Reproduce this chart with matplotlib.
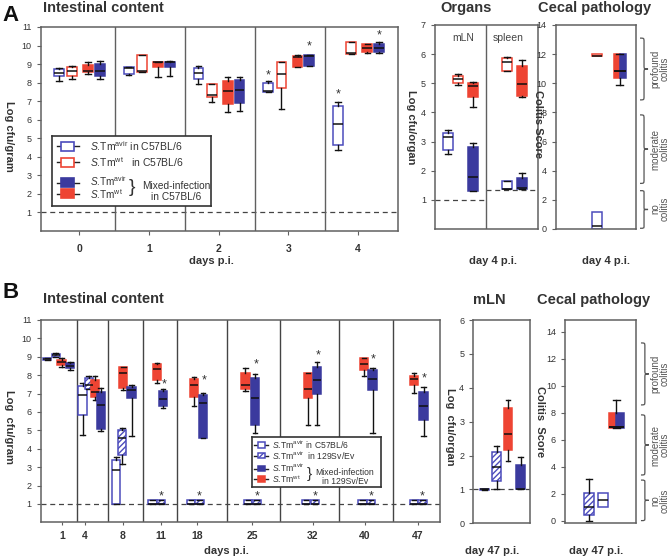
import matplotlib
matplotlib.use("Agg")
import matplotlib.pyplot as plt
from matplotlib.patches import Rectangle, PathPatch
from matplotlib.path import Path
import matplotlib.transforms as mtransforms

plt.rcParams['font.family'] = ['Liberation Sans', 'DejaVu Sans']
plt.rcParams['mathtext.fontset'] = 'custom'
plt.rcParams['mathtext.rm'] = 'Liberation Sans'
plt.rcParams['mathtext.it'] = 'Liberation Sans:italic'
plt.rcParams['hatch.linewidth'] = 1.0

# ---------------- data (lo, q1, median, q3, hi) ----------------
# A: intestinal content, days 0-4, C57BL/6
days_a = [0, 1, 2, 3, 4]
a_avir_single = [(8.1, 8.35, 8.5, 8.75, 8.8), (8.42, 8.45, 8.8, 8.85, 8.87),
                 (7.95, 8.2, 8.5, 8.78, 8.92), (7.48, 7.48, 7.53, 7.98, 8.07),
                 (4.39, 4.66, 5.76, 6.74, 6.95)]
a_wt_single = [(8.2, 8.37, 8.65, 8.87, 8.9), (8.6, 8.6, 8.65, 9.48, 9.49),
               (6.95, 7.2, 7.36, 7.95, 7.95), (6.56, 7.7, 8.48, 9.1, 9.1),
               (9.53, 9.53, 9.58, 10.2, 10.2)]
a_wt_mixed = [(8.48, 8.6, 8.65, 8.95, 9.13), (8.3, 8.83, 9.1, 9.13, 9.13),
              (6.42, 6.86, 7.57, 8.07, 8.28), (8.87, 8.87, 9.4, 9.44, 9.49),
              (9.58, 9.67, 9.85, 10.06, 10.1)]
a_avir_mixed = [(8.2, 8.37, 8.65, 9.0, 9.17), (8.37, 8.83, 9.1, 9.13, 9.17),
                (6.47, 6.9, 7.6, 8.15, 8.33), (8.9, 8.9, 9.43, 9.49, 9.5),
                (9.58, 9.67, 9.85, 10.1, 10.17)]
a_stars = [(3, 'avir_single', 8.4), (3, 'avir_mixed', 9.93),
           (4, 'avir_single', 7.36), (4, 'avir_mixed', 10.55)]

# A: organs day 4
organs = ['mLN', 'spleen']
org_avir_single = [(2.58, 2.7, 3.15, 3.3, 3.4), (1.37, 1.37, 1.37, 1.66, 1.66)]
org_wt_single = [(4.94, 5.0, 5.15, 5.25, 5.32), (5.42, 5.42, 5.74, 5.86, 5.91)]
org_wt_mixed = [(4.2, 4.54, 4.9, 5.0, 5.06), (4.54, 4.58, 4.97, 5.6, 5.8)]
org_avir_mixed = [(1.32, 1.32, 1.8, 2.8, 2.94), (1.37, 1.37, 1.4, 1.74, 1.91)]
org_detection = [1.0, 1.35]

# A: cecal pathology day 4
cec_a_avir_single = (0.0, 0.0, 0.2, 1.19, 1.19)
cec_a_wt_single = (11.85, 11.85, 11.9, 12.0, 12.0)
cec_a_mixed = (9.85, 10.35, 10.85, 12.0, 12.0)

# B: intestinal content, days 1-47
days_b = [1, 4, 8, 11, 18, 25, 32, 40, 47]
low = (1.0, 1.0, 1.02, 1.23, 1.23)
b_avir_c57 = [(8.82, 8.84, 8.88, 8.94, 8.96), (4.72, 5.85, 6.93, 7.42, 7.56),
              (1.0, 1.0, 2.86, 3.4, 3.55), low, low, low, low, low, low]
b_avir_129 = [(8.97, 9.0, 9.08, 9.15, 9.2), (7.24, 7.24, 7.47, 7.83, 7.96),
              (3.19, 3.68, 4.58, 5.03, 5.12), low, low, low, low, low, low]
b_wt_mixed = [(8.47, 8.56, 8.69, 8.83, 8.92), (6.66, 6.79, 7.11, 7.74, 7.93),
              (7.2, 7.29, 8.1, 8.43, 8.47), (7.6, 7.74, 8.33, 8.6, 8.65),
              (6.3, 6.81, 7.46, 7.8, 7.89), (7.16, 7.26, 7.46, 8.14, 8.38),
              (5.3, 6.75, 7.26, 8.1, 8.1), (7.93, 8.29, 8.6, 8.92, 8.92),
              (7.02, 7.47, 7.78, 7.93, 8.1)]
b_avir_mixed = [(8.29, 8.38, 8.52, 8.65, 8.7), (4.94, 5.07, 6.39, 7.11, 7.29),
                (4.7, 6.75, 7.17, 7.38, 7.47), (6.2, 6.33, 6.71, 7.15, 7.27),
                (4.58, 4.58, 6.51, 6.91, 7.02), (4.85, 5.3, 6.75, 7.84, 8.07),
                (5.3, 6.99, 7.75, 8.47, 8.69), (4.85, 7.2, 7.78, 8.29, 8.41),
                (4.67, 5.57, 6.3, 7.11, 7.38)]
b_stars_high = [7.47, 7.69, 8.6, 9.1, 8.83, 7.8]   # days 11..47, mixed avir
b_stars_low = [1.42] * 6                           # days 11..47, single avir

# B: mLN day 47
mln_b = [(0.98, 0.98, 1.0, 1.02, 1.02), (1.0, 1.26, 1.65, 2.11, 2.28),
         (1.85, 2.16, 2.64, 3.39, 3.64), (1.0, 1.0, 1.0, 1.72, 1.97)]
mln_b_kinds = ['ob', 'hb', 'fr', 'fb']

# B: cecal pathology day 47
cec_b_avir_129 = (0.0, 0.42, 1.04, 2.02, 3.06)
cec_b_avir_c57 = (0.99, 0.99, 1.53, 2.07, 2.07)
cec_b_mixed = (6.89, 6.89, 6.96, 7.95, 8.9)

# ---------------- style ----------------
BLUE = '#3b3a9e'
BLUE_L = '#4c4cbc'
RED = '#ee4433'
DARK = '#333333'
FRAME = '#606060'
STYLE = {'ob': ('white', BLUE_L, None), 'or': ('white', RED, None),
         'fr': (RED, RED, None), 'fb': (BLUE, BLUE, None),
         'hb': ('white', BLUE_L, '//////'), 'none': ('none', 'none', None)}

W, H = 669, 558
fig = plt.figure(figsize=(W / 100, H / 100), dpi=100)


def px_axes(l, t, r, b):
    return fig.add_axes([l / W, 1 - b / H, (r - l) / W, (b - t) / H])


def ftext(x, y, s, **kw):
    kw.setdefault('color', DARK)
    return fig.text(x / W, 1 - y / H, s, **kw)


def box(ax, x, s, kind, w, caps=True):
    lo, q1, med, q3, hi = s
    face, edge, hatch = STYLE[kind]
    ax.bxp([dict(whislo=lo, q1=q1, med=med, q3=q3, whishi=hi, fliers=[])],
           positions=[x], widths=[w], capwidths=[w * 0.55 if caps else 0],
           patch_artist=True, showfliers=False, manage_ticks=False,
           boxprops=dict(facecolor=face, edgecolor=edge, linewidth=1.1, hatch=hatch),
           medianprops=dict(color='#111111', linewidth=1.1),
           whiskerprops=dict(color='#111111', linewidth=1.0),
           capprops=dict(color='#111111', linewidth=1.0))


def frame(ax):
    for sp in ax.spines.values():
        sp.set_color(FRAME)
        sp.set_linewidth(1.1)
    ax.tick_params(colors=FRAME, labelcolor=DARK, labelsize=6.5, length=3, width=0.8)


def brace(ax, x0, y0, y1, w, tr):
    ym = (y0 + y1) / 2
    d = (y1 - y0) * 0.06
    xm = x0 + w / 2
    verts = [(x0, y0), (xm, y0), (xm, y0), (xm, y0 + d), (xm, ym - d),
             (xm, ym), (xm, ym), (x0 + w, ym), (xm, ym), (xm, ym), (xm, ym + d),
             (xm, y1 - d), (xm, y1), (xm, y1), (x0, y1)]
    codes = [Path.MOVETO, Path.CURVE4, Path.CURVE4, Path.CURVE4, Path.LINETO,
             Path.CURVE4, Path.CURVE4, Path.CURVE4, Path.CURVE4, Path.CURVE4, Path.CURVE4,
             Path.LINETO, Path.CURVE4, Path.CURVE4, Path.CURVE4]
    ax.add_patch(PathPatch(Path(verts, codes), fc='none', ec='#555555', lw=0.9,
                           transform=tr, clip_on=False))


def dashed(ax, y, x0=None, x1=None):
    if x0 is None:
        ax.axhline(y, color='#444444', lw=0.9, dashes=(4, 3), zorder=1)
    else:
        ax.hlines(y, x0, x1, color='#444444', lw=0.9, linestyles=(0, (4, 3)), zorder=1)


def star(ax, x, y):
    ax.text(x, y, '*', ha='center', va='center', fontsize=9, color=DARK)


# ================= Panel A: intestinal =================
ax = px_axes(40.7, 27, 398, 231)
frame(ax)
ax.set_xlim(-0.55, 4.57)
ax.set_ylim(0, 11)
ax.set_yticks(range(1, 12))
ax.set_xticks(days_a)
ax.set_xticklabels([str(d) for d in days_a], fontsize=7.5, fontweight='bold')
ax.tick_params(axis='x', pad=6.5)
for d in days_a[:-1]:
    ax.axvline(d + 0.52, color=FRAME, lw=1.0)
dashed(ax, 1)
a_off = {'avir_single': -0.29, 'wt_single': -0.1, 'wt_mixed': 0.13, 'avir_mixed': 0.3}
for i, d in enumerate(days_a):
    box(ax, d + a_off['avir_single'], a_avir_single[i], 'ob', 0.14)
    box(ax, d + a_off['wt_single'], a_wt_single[i], 'or', 0.14)
    box(ax, d + a_off['wt_mixed'], a_wt_mixed[i], 'fr', 0.14)
    box(ax, d + a_off['avir_mixed'], a_avir_mixed[i], 'fb', 0.14)
for d, k, y in a_stars:
    star(ax, d + a_off[k], y)

# legend A
lab = r'$\mathit{S}$.Tm$^{\mathrm{%s}}$'
lg = px_axes(52, 136, 211, 206)
lg.set_xlim(0, 159)
lg.set_ylim(70, 0)
lg.set_xticks([])
lg.set_yticks([])
for sp in lg.spines.values():
    sp.set_color('#333333')
    sp.set_linewidth(1.2)
for yy, kind in [(10, 'ob'), (26, 'or'), (46.5, 'fb'), (57.5, 'fr')]:
    face, edge, _ = STYLE[kind]
    lg.plot([5, 27], [yy, yy], color='#222222', lw=1.0)
    lg.add_patch(Rectangle((9, yy - 4.5), 13, 9, fc=face, ec=edge, lw=1.2, zorder=3))
lg.text(38, 10, lab % 'avir' + ' in C57BL/6', va='center', fontsize=7.5, color=DARK)
lg.text(38, 26, lab % 'wt' + '   in C57BL/6', va='center', fontsize=7.5, color=DARK)
lg.text(38, 45.5, lab % 'avir', va='center', fontsize=7.2, color=DARK)
lg.text(38, 58.5, lab % 'wt', va='center', fontsize=7.2, color=DARK)
lg.text(77, 52, '}', va='center', fontsize=14, color=DARK)
lg.text(124, 50, 'Mixed-infection', ha='center', va='center', fontsize=7.3, color=DARK)
lg.text(124, 61, 'in C57BL/6', ha='center', va='center', fontsize=7.3, color=DARK)

# ================= Panel A: organs =================
ax = px_axes(435, 25, 537.7, 229)
frame(ax)
ax.set_xlim(0, 2)
ax.set_ylim(0, 7)
ax.set_yticks(range(1, 8))
ax.set_xticks([])
ax.axvline(1, color=FRAME, lw=1.0)
dashed(ax, org_detection[0], 0, 1)
dashed(ax, org_detection[1], 1, 2)
org_pos = [(0.25, 0.45, 0.74), (1.4, 1.4, 1.7)]
for i, name in enumerate(organs):
    p_ob, p_or, p_f = org_pos[i]
    box(ax, p_ob, org_avir_single[i], 'ob', 0.2)
    box(ax, p_or, org_wt_single[i], 'or', 0.2)
    box(ax, p_f, org_wt_mixed[i], 'fr', 0.2)
    box(ax, p_f, org_avir_mixed[i], 'fb', 0.2)
    ax.text(0.55 + i * 0.87, 6.55, name, ha='center', va='center', fontsize=7.5, color='#444444')

# ================= Panel A: cecal =================
ax = px_axes(555.7, 25, 636, 229)
frame(ax)
ax.set_xlim(0, 2)
ax.set_ylim(0, 14)
ax.set_yticks(range(0, 15, 2))
ax.set_xticks([])
box(ax, 1.03, cec_a_avir_single, 'ob', 0.25, caps=False)
box(ax, 1.03, cec_a_wt_single, 'or', 0.25, caps=False)
lo, q1, med, q3, hi = cec_a_mixed
box(ax, 1.52, (q1, q1, med, q3, q3), 'fr', 0.16, caps=False)
box(ax, 1.68, (q1, q1, med, q3, q3), 'fb', 0.16, caps=False)
box(ax, 1.6, (lo, q1, med, q3, q3), 'none', 0.32)
tr = mtransforms.blended_transform_factory(ax.transAxes, ax.transData)
for y0, y1 in [(8.86, 13.1), (3.13, 7.83), (0.05, 2.63)]:
    brace(ax, 1.05, y0, y1, 0.1, tr)

# ================= Panel B: intestinal =================
b_sep = [36, 67.6, 102.6, 136.6, 186, 239.3, 298.6, 352.6]
b_tick = [21.6, 44.3, 82.3, 120.3, 156.3, 211.3, 272.3, 324.3, 377.3]
b_x_c57 = [6.5, 41.8, 75.5, 111.8, 150.3, 207.3, 265.3, 321.8, 373.3]
b_x_129 = [15.1, 48.1, 81.5, 120.3, 158.8, 216.0, 274.3, 330.3, 381.8]
b_x_wt = [21.0, 54.3, 82.5, 116.3, 153.3, 204.6, 267.3, 323.3, 373.3]
b_x_mix = [29.5, 60.1, 91.0, 122.3, 162.3, 214.3, 276.3, 331.8, 382.8]

ax = px_axes(40.7, 320, 440, 522.3)
frame(ax)
ax.set_xlim(0, 399.3)
ax.set_ylim(0, 11)
ax.set_yticks(range(1, 12))
ax.set_xticks(b_tick)
ax.set_xticklabels([str(d) for d in days_b], fontsize=7.5, fontweight='bold')
ax.tick_params(axis='x', pad=4, length=2.5)
for s in b_sep:
    ax.axvline(s, color='#444444', lw=1.0)
dashed(ax, 1)
for i in range(len(days_b)):
    box(ax, b_x_c57[i], b_avir_c57[i], 'ob', 8.5)
    box(ax, b_x_129[i], b_avir_129[i], 'hb', 8.5)
    box(ax, b_x_wt[i], b_wt_mixed[i], 'fr', 8.5)
    box(ax, b_x_mix[i], b_avir_mixed[i], 'fb', 8.5)
for j in range(6):
    star(ax, b_x_mix[3 + j] + 1, b_stars_high[j])
    star(ax, b_x_129[3 + j], b_stars_low[j])

# legend B
lg = px_axes(252, 437, 381, 487.3)
lg.set_xlim(0, 129)
lg.set_ylim(50.3, 0)
lg.set_xticks([])
lg.set_yticks([])
for sp in lg.spines.values():
    sp.set_color('#333333')
    sp.set_linewidth(1.2)
for yy, kind in [(8, 'ob'), (18.5, 'hb'), (31.5, 'fb'), (42, 'fr')]:
    face, edge, hatch = STYLE[kind]
    lg.plot([2.5, 16], [yy, yy], color='#222222', lw=1.0)
    lg.add_patch(Rectangle((5.5, yy - 2.6), 7.5, 5.2, fc=face, ec=edge, lw=1.1,
                           hatch=hatch, zorder=3))
lfs = 6.2
lg.text(20, 7.5, lab % 'avir' + ' in C57BL/6', va='center', fontsize=lfs, color=DARK)
lg.text(20, 19, lab % 'avir' + '  in 129Sv/Ev', va='center', fontsize=lfs, color=DARK)
lg.text(20, 31, lab % 'avir', va='center', fontsize=lfs, color=DARK)
lg.text(20, 42.5, lab % 'wt', va='center', fontsize=lfs, color=DARK)
lg.text(55, 37, '}', va='center', fontsize=11, color=DARK)
lg.text(93, 35.5, 'Mixed-infection', ha='center', va='center', fontsize=lfs, color=DARK)
lg.text(93, 44, 'in 129Sv/Ev', ha='center', va='center', fontsize=lfs, color=DARK)

# ================= Panel B: mLN =================
ax = px_axes(473.3, 320, 530, 523.3)
frame(ax)
ax.set_xlim(0, 4)
ax.set_ylim(0, 6)
ax.set_yticks(range(0, 7))
ax.set_xticks([])
dashed(ax, 1)
for i, (s, k) in enumerate(zip(mln_b, mln_b_kinds)):
    box(ax, [0.79, 1.64, 2.45, 3.33][i], s, k, 0.63)

# ================= Panel B: cecal =================
ax = px_axes(565, 320, 636, 523.3)
frame(ax)
ax.set_xlim(0, 2)
ax.set_ylim(-0.2, 14.86)
ax.set_yticks(range(0, 15, 2))
ax.set_xticks([])
box(ax, 0.68, cec_b_avir_129, 'hb', 0.28)
box(ax, 1.07, cec_b_avir_c57, 'ob', 0.28, caps=False)
lo, q1, med, q3, hi = cec_b_mixed
box(ax, 1.35, (q1, q1, med, q3, q3), 'fr', 0.2, caps=False)
box(ax, 1.55, (q1, q1, med, q3, q3), 'fb', 0.2, caps=False)
box(ax, 1.45, (q1, q1, med, q3, hi), 'none', 0.4)
tr = mtransforms.blended_transform_factory(ax.transAxes, ax.transData)
for y0, y1 in [(8.57, 13.16), (3.38, 7.83), (0.0, 3.0)]:
    brace(ax, 1.07, y0, y1, 0.11, tr)

# ================= texts =================
ftext(2, 21, 'A', fontsize=16, fontweight='bold', color='#111111')
ftext(2, 298, 'B', fontsize=16, fontweight='bold', color='#111111')
ftext(42.7, 12.5, 'Intestinal content', fontsize=10.5, fontweight='bold')
ftext(42.7, 303.3, 'Intestinal content', fontsize=10.5, fontweight='bold')
ftext(466, 12.3, 'Organs', fontsize=10.5, fontweight='bold', ha='center')
ftext(595, 12.3, 'Cecal pathology', fontsize=10.5, fontweight='bold', ha='center')
ftext(489, 304.3, 'mLN', fontsize=10.5, fontweight='bold', ha='center')
ftext(594, 304, 'Cecal pathology', fontsize=10.5, fontweight='bold', ha='center')

ftext(211, 261, 'days p.i.', fontsize=8, fontweight='bold', ha='center', va='center')
ftext(493, 261, 'day 4 p.i.', fontsize=8, fontweight='bold', ha='center', va='center')
ftext(606, 261, 'day 4 p.i.', fontsize=8, fontweight='bold', ha='center', va='center')
ftext(226, 551, 'days p.i.', fontsize=8, fontweight='bold', ha='center', va='center')
ftext(492.5, 551, 'day 47 p.i.', fontsize=8, fontweight='bold', ha='center', va='center')
ftext(596, 551, 'day 47 p.i.', fontsize=8, fontweight='bold', ha='center', va='center')

ylab = dict(fontsize=8, fontweight='bold', ha='center', va='center', rotation=270)
ftext(9, 136, 'Log cfu/gram', **ylab)
ftext(411.5, 127, 'Log cfu/organ', **ylab)
ftext(538, 124, 'Colitis Score', **ylab)
ftext(9, 427, 'Log  cfu/gram', **ylab)
ftext(450, 426.5, 'Log  cfu/organ', **ylab)
ftext(540, 422, 'Colitis  Score', **ylab)

bl = dict(fontsize=7, ha='center', va='center', rotation=90, color='#555555')
for yc, a, b in [(69, 'profound', 'colitis'), (149, 'moderate', 'colitis'), (209, 'no', 'colitis')]:
    ftext(655, yc, a, **bl)
    ftext(665, yc, b, **bl)
for yc, a, b in [(374, 'profound', 'colitis'), (445, 'moderate', 'colitis'), (501, 'no', 'colitis')]:
    ftext(655, yc, a, **bl)
    ftext(665, yc, b, **bl)

fig.savefig('out.png', dpi=100)
